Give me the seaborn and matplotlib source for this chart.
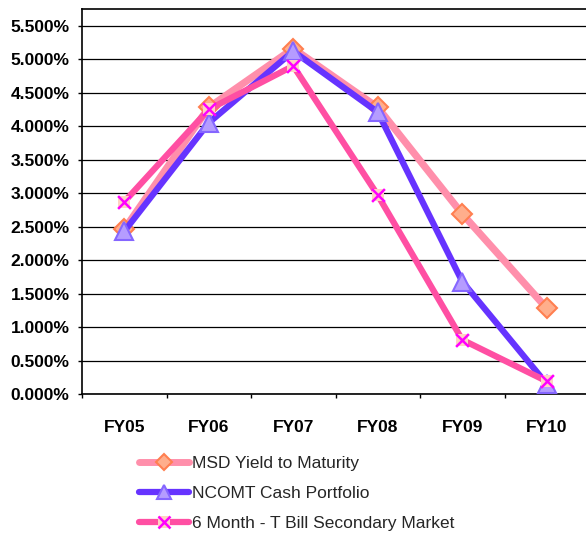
import matplotlib
matplotlib.use("Agg")
import matplotlib.pyplot as plt
from matplotlib.lines import Line2D
from matplotlib.legend_handler import HandlerTuple
from matplotlib.ticker import FuncFormatter, FixedLocator
import seaborn as sns
import pandas as pd

# Fiscal years and yields (in percent)
fiscal_years = ["FY05", "FY06", "FY07", "FY08", "FY09", "FY10"]
msd_yield = [2.46, 4.28, 5.16, 4.28, 2.69, 1.28]
ncomt_cash = [2.43, 4.05, 5.12, 4.21, 1.68, 0.15]
tbill_6m = [2.87, 4.25, 4.90, 2.97, 0.81, 0.19]

series_names = [
    "MSD Yield to Maturity",
    "NCOMT Cash Portfolio",
    "6 Month - T Bill Secondary Market",
]

df = pd.DataFrame({
    "year": fiscal_years * 3,
    "rate": msd_yield + ncomt_cash + tbill_6m,
    "series": [s for s in series_names for _ in fiscal_years],
})

sns.set_theme(style="white")
plt.rcParams["font.family"] = ["Liberation Sans", "DejaVu Sans"]

fig = plt.figure(figsize=(5.86, 5.36), dpi=100)
W, H = 586, 536
left, right, top, bottom = 82, 589, 9, 394
ax = fig.add_axes([left / W, 1 - bottom / H, (right - left) / W, (bottom - top) / H])

msd_line, msd_face, msd_edge = "#FF8FAB", "#FFAE8C", "#FF7F50"
nc_line, nc_face, nc_edge = "#6633FF", "#B59CFF", "#8566FF"
tb_line, tb_x, tb_sq = "#FF4FA3", "#FF00FF", "#FFD3C2"

d_msd = df[df.series == series_names[0]]
d_nc = df[df.series == series_names[1]]
d_tb = df[df.series == series_names[2]]

sns.lineplot(data=d_msd, x="year", y="rate", ax=ax, sort=False, color=msd_line,
             lw=5.2, marker="D", ms=10, mfc=msd_face, mec=msd_edge, mew=1.5,
             zorder=3, legend=False)
sns.lineplot(data=d_nc, x="year", y="rate", ax=ax, sort=False, color=nc_line,
             lw=4.5, marker="^", ms=12.5, mfc=nc_face, mec=nc_edge, mew=1.5,
             zorder=4, legend=False)
sns.lineplot(data=d_tb, x="year", y="rate", ax=ax, sort=False, color=tb_line,
             lw=4.5, marker="s", ms=9, mfc=tb_sq, mec=tb_sq, mew=0,
             zorder=5, legend=False)
sns.scatterplot(data=d_tb, x="year", y="rate", ax=ax, marker="x", s=85,
                color=tb_x, linewidth=1.8, zorder=6, legend=False)

ax.set_xlim(-0.5, len(fiscal_years) - 0.5)
ax.set_ylim(0, 5.75)
ax.set_xlabel("")
ax.set_ylabel("")

yt = [i * 0.5 for i in range(12)]
ax.set_yticks(yt)
ax.yaxis.set_major_formatter(FuncFormatter(lambda v, p: f"{v:.3f}%"))
ax.yaxis.grid(True, color="black", lw=0.9)
ax.xaxis.grid(False)
ax.set_axisbelow(True)

ax.set_xticks(range(len(fiscal_years)))
ax.set_xticklabels(fiscal_years)
ax.xaxis.set_minor_locator(FixedLocator([i - 0.5 for i in range(len(fiscal_years) + 1)]))
ax.tick_params(axis="x", which="major", length=0, pad=19, labelsize=12.5)
ax.tick_params(axis="x", which="minor", length=3, width=1, color="black", direction="out", bottom=True)
ax.tick_params(axis="y", which="major", length=3, width=1, color="black", direction="out",
               left=True, pad=6, labelsize=12.5)
for lab in ax.get_xticklabels() + ax.get_yticklabels():
    lab.set_fontweight("bold")
    lab.set_color("black")

for s in ["left", "bottom", "top"]:
    ax.spines[s].set_visible(True)
    ax.spines[s].set_color("black")
    ax.spines[s].set_linewidth(1.2)
ax.spines["right"].set_visible(False)

h_msd = Line2D([], [], color=msd_line, lw=5, marker="D", ms=8, mfc=msd_face, mec=msd_edge, mew=1.5)
h_nc = Line2D([], [], color=nc_line, lw=4.5, marker="^", ms=10, mfc=nc_face, mec=nc_edge, mew=1.5)
h_tb_line = Line2D([], [], color=tb_line, lw=4.5, marker="s", ms=9, mfc=tb_sq, mec=tb_sq, mew=0)
h_tb_x = Line2D([], [], ls="none", marker="x", ms=9, color=tb_x, mew=1.8)

fig.legend([h_msd, h_nc, (h_tb_line, h_tb_x)], series_names,
           handler_map={tuple: HandlerTuple(ndivide=1)},
           loc="upper left", bbox_to_anchor=(139 / W, 1 - 456 / H),
           frameon=False, fontsize=12.5, handlelength=2.9, handletextpad=0.15,
           labelspacing=0.85, borderaxespad=0, borderpad=0)

fig.savefig("out.png", dpi=100)
